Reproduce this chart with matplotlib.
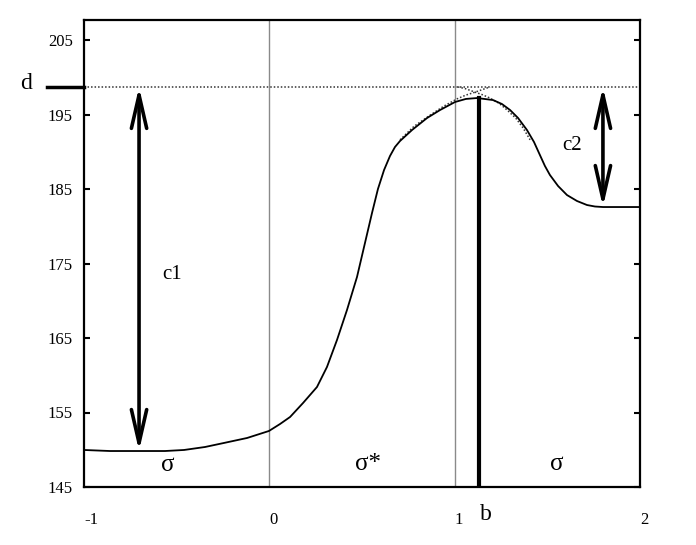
import matplotlib
matplotlib.use("Agg")
import matplotlib.pyplot as plt
from matplotlib.transforms import blended_transform_factory

plt.rcParams['font.family'] = ['Liberation Serif', 'DejaVu Serif']

# ---- data ----
curve_x = [-1.0, -0.860, -0.703, -0.563, -0.460, -0.347, -0.245, -0.120, -0.002, 0.058, 0.112,
           0.182, 0.257, 0.311, 0.365, 0.419, 0.473, 0.516, 0.554, 0.586, 0.619, 0.651, 0.678,
           0.705, 0.770, 0.851, 0.921, 1.002, 1.061, 1.121, 1.207, 1.255, 1.299, 1.342, 1.390,
           1.428, 1.460, 1.487, 1.514, 1.558, 1.606, 1.660, 1.714, 1.757, 1.800, 2.0]
curve_y = [149.97, 149.83, 149.83, 149.83, 149.97, 150.37, 150.91, 151.58, 152.52, 153.46, 154.40,
           156.28, 158.42, 161.11, 164.73, 168.76, 173.19, 177.75, 181.78, 185.00, 187.55, 189.43, 190.64,
           191.44, 192.92, 194.53, 195.60, 196.68, 197.09, 197.21, 196.94, 196.41, 195.60, 194.53, 192.92,
           191.31, 189.56, 188.09, 186.88, 185.40, 184.19, 183.39, 182.85, 182.65, 182.58, 182.58]

left_dot_x = [0.705, 0.78, 0.867, 0.94, 1.013, 1.06, 1.110, 1.15, 1.191]
left_dot_y = [191.6, 193.4, 194.9, 196.1, 197.1, 197.6, 198.0, 198.35, 198.7]
right_dot_x = [1.018, 1.06, 1.110, 1.15, 1.191, 1.24, 1.283, 1.33, 1.369, 1.407]
right_dot_y = [198.7, 198.45, 198.0, 197.65, 197.2, 196.5, 195.6, 194.5, 193.2, 191.6]

d_level = 198.7
b_pos = 1.131
b_top = 197.21
c1_x, c1_low = -0.703, 149.83
c2_x, c2_low = 1.80, 182.58
region_lines = [0, 1]

x_ticks = [-1, 0, 1, 2]
x_tick_labels = ['-1', '0', '1', '2']
y_ticks = [145, 155, 165, 175, 185, 195, 205]
y_tick_labels = ['145', '155', '165', '175', '185', '195', '205']

# ---- figure ----
fig = plt.figure(figsize=(6.96, 5.45), dpi=100)
ax = fig.add_axes([84/696, 1 - 487/545, (640 - 84)/696, (487 - 20)/545])
ax.set_xlim(-1, 2)
ax.set_ylim(145, 145 + (487 - 20) / 7.45)

for xv in region_lines:
    ax.axvline(xv, color='#8a8a8a', lw=1.0, zorder=1)

dot_style = dict(color='#333333', lw=1.1, ls=(0, (1, 1.3)), zorder=2)
ax.plot([-1, 2], [d_level, d_level], **dot_style)
ax.plot(left_dot_x, left_dot_y, **dot_style)
ax.plot(right_dot_x, right_dot_y, **dot_style)

ax.plot(curve_x, curve_y, color='black', lw=1.3, zorder=3, solid_joinstyle='round')

ax.plot([b_pos, b_pos], [145, b_top], color='black', lw=3.0, zorder=4)

# d marker outside the axes
ax.plot([-1.2, -1.0], [d_level, d_level], color='black', lw=2.5, clip_on=False, zorder=5)
fig.text(26/696, 1 - 83/545, 'd', fontsize=17, ha='center', va='center')

arrow_style = '<->,head_length=2.4,head_width=0.55'
for ax_x, low in [(c1_x, c1_low), (c2_x, c2_low)]:
    ax.annotate('', xy=(ax_x, d_level), xytext=(ax_x, low),
                arrowprops=dict(arrowstyle=arrow_style, lw=2.6, color='black',
                                shrinkA=0, shrinkB=0, mutation_scale=10), zorder=6)

ax.text(-0.525, 173.5, 'c1', fontsize=15, ha='center', va='center')
ax.text(1.633, 190.9, 'c2', fontsize=15, ha='center', va='center')
ax.text(-0.547, 148.0, 'σ', fontsize=18, ha='center', va='center')
ax.text(0.532, 148.1, 'σ*', fontsize=18, ha='center', va='center')
ax.text(1.553, 148.1, 'σ', fontsize=18, ha='center', va='center')

trans = blended_transform_factory(ax.transData, ax.transAxes)
ax.text(1.169, -(515 - 487) / 467, 'b', fontsize=17, ha='center', va='center', transform=trans)

ax.set_xticks(x_ticks)
ax.set_xticklabels(x_tick_labels, fontsize=12)
for lbl in ax.get_xticklabels():
    lbl.set_horizontalalignment('left')
ax.tick_params(axis='x', length=0, pad=18)

ax.set_yticks(y_ticks)
ax.set_yticklabels(y_tick_labels, fontsize=12)
ax.tick_params(axis='y', direction='in', length=4, width=1.5, pad=8, right=True)

for sp in ax.spines.values():
    sp.set_linewidth(1.6)

fig.savefig('out.png', dpi=100)
